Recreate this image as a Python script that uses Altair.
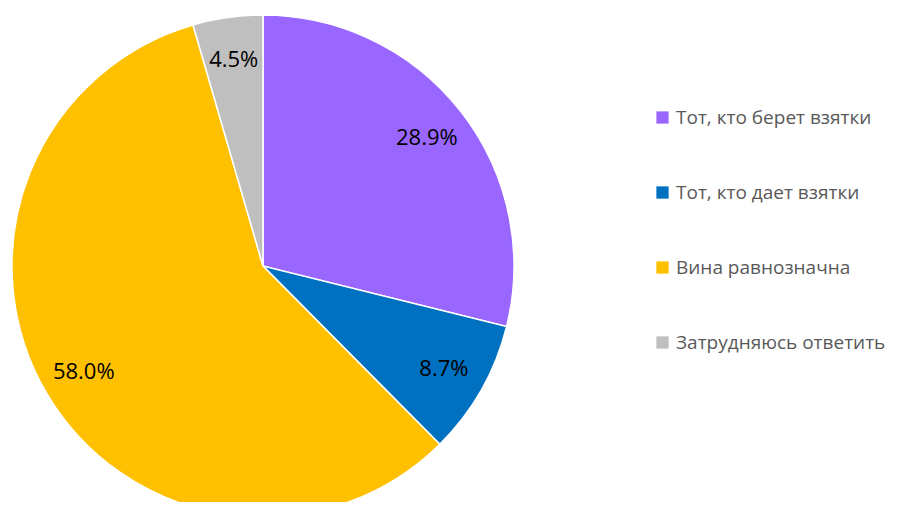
import altair as alt
import pandas as pd

categories = ["Тот, кто берет взятки", "Тот, кто дает взятки", "Вина равнозначна", "Затрудняюсь ответить"]
values = [28.9, 8.7, 58.0, 4.5]
labels = ["28.9%", "8.7%", "58.0%", "4.5%"]
colors = ["#9966FF", "#0070C0", "#FFC000", "#BFBFBF"]

df = pd.DataFrame({"cat": categories, "val": values, "lab": labels, "ord": list(range(len(categories)))})

base = alt.Chart(df).encode(
    theta=alt.Theta("val:Q", stack=True),
    order=alt.Order("ord:Q"),
    x=alt.value(255),
    y=alt.value(258),
)

arcs = base.mark_arc(radius=251, stroke="white", strokeWidth=1.5).encode(
    color=alt.Color(
        "cat:N",
        scale=alt.Scale(domain=categories, range=colors),
        sort=categories,
        legend=alt.Legend(
            title=None,
            orient="none",
            legendX=645,
            legendY=100,
            symbolType="square",
            symbolSize=150,
            symbolStrokeWidth=0,
            labelFontSize=19,
            labelFont="Open Sans",
            labelColor="#595959",
            rowPadding=55,
            labelLimit=400,
            labelOffset=4,
        ),
    )
)

text = base.mark_text(radius=208, fontSize=22, font="Open Sans", color="#000000").encode(
    text="lab:N"
)

chart = (arcs + text).properties(
    width=882, height=494, padding=0, autosize=alt.AutoSizeParams(type="none")
).configure_view(stroke=None)

chart.save("out.html", embed_options={"renderer": "svg", "actions": False})
